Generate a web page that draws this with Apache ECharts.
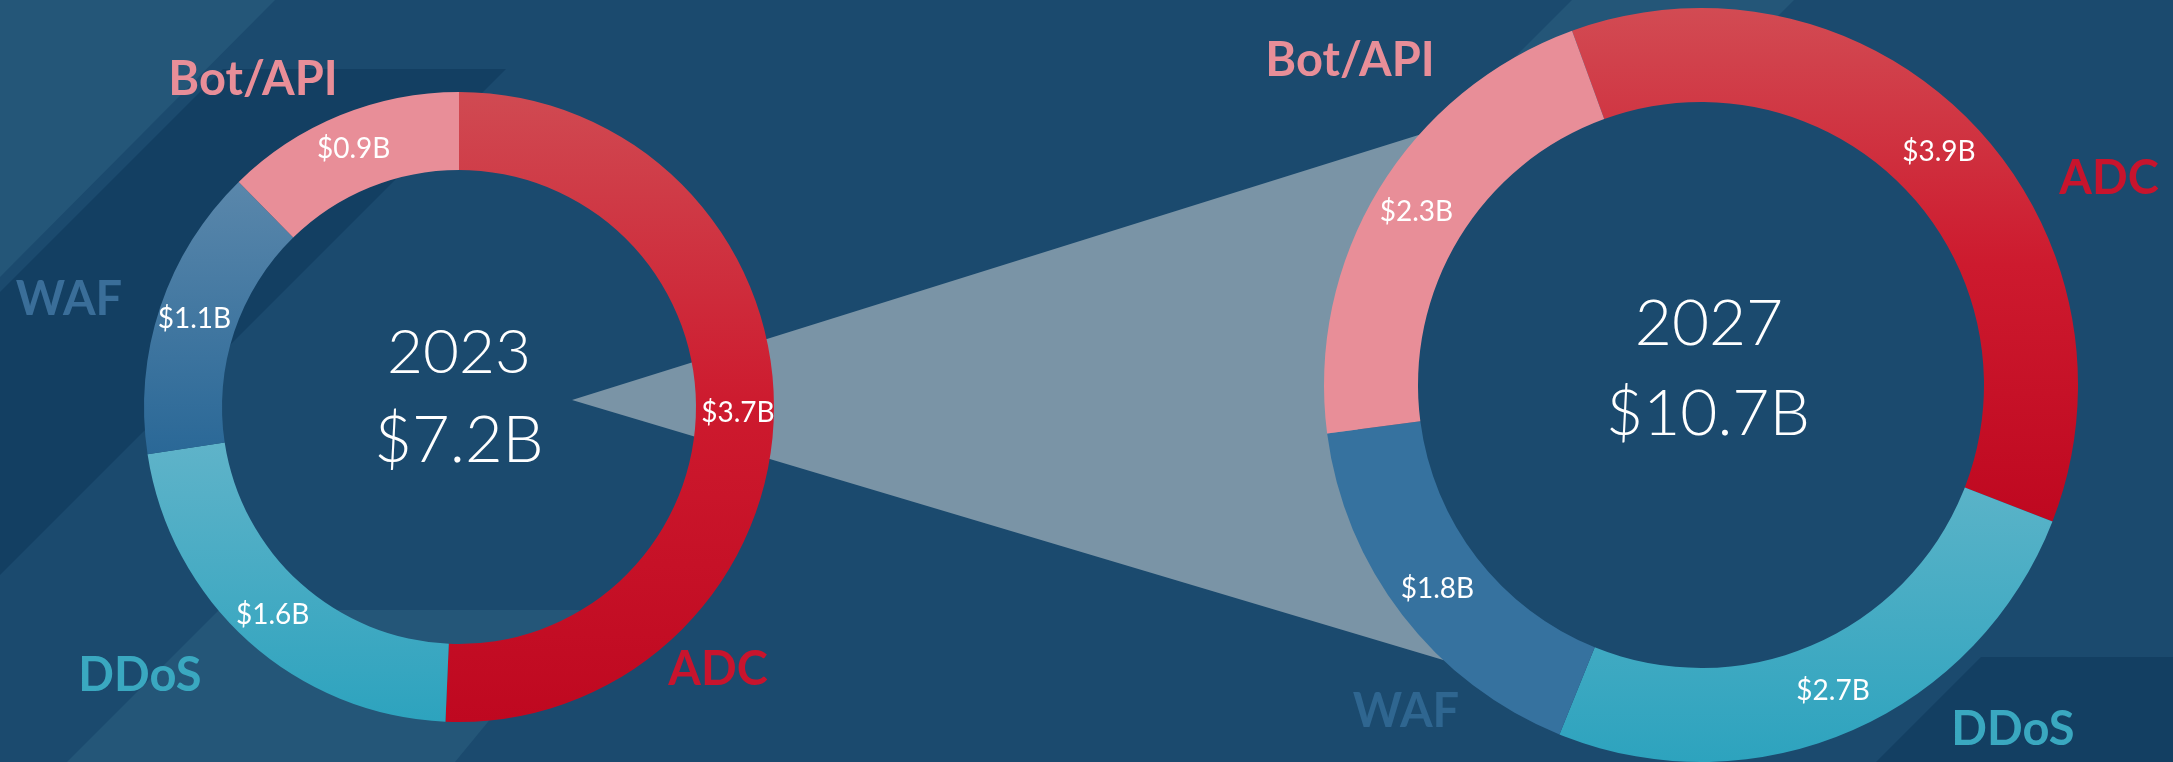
<!DOCTYPE html>
<html>
<head>
<meta charset="utf-8">
<title>ADC / DDoS / WAF / Bot-API market</title>
<script src="https://cdn.jsdelivr.net/npm/echarts@6/dist/echarts.min.js"></script>
<style>
  html, body { margin: 0; padding: 0; background: #1b4a6e; }
  #chart { width: 2173px; height: 762px; }
</style>
</head>
<body>
<div id="chart"></div>
<script>
// data
const categories = ['ADC', 'DDoS', 'WAF', 'Bot/API']
const values2023 = [3.7, 1.6, 1.1, 0.9]
const values2027 = [3.9, 2.7, 1.8, 2.3]
const years = ['2023', '2027']
const totals = [7.2, 10.7]

// colours per category (same order as categories)
const grad = (a, b, c) => new echarts.graphic.LinearGradient(0, 0, 0, 1, c
  ? [{ offset: 0, color: a }, { offset: 0.5, color: b }, { offset: 1, color: c }]
  : [{ offset: 0, color: a }, { offset: 1, color: b }])
const colors2023 = [
  grad('#d04a52', '#cd1a2e', '#bf0820'),
  grad('#5fb3c9', '#2da3be'),
  grad('#5a87ab', '#2a6897'),
  '#e88e98'
]
const colors2027 = [
  grad('#d24b53', '#cd1a2e', '#bf0820'),
  grad('#5ab3c8', '#2da3be'),
  '#36729f',
  '#e88e98'
]
const labelColors = ['#c8142d', '#3aa8c0', '#3a6e99', '#e88e98']
const labelColors2027 = ['#c8142d', '#3aa8c0', '#2f6690', '#e88e98']

// where the category names sit (left donut, right donut)
const nameSpots = [
  [[718, 670], [140, 676], [69, 300], [253, 80]],
  [[2109, 179], [2013, 730], [1406, 712], [1350, 61]]
]

const chart = echarts.init(document.getElementById('chart'))

function pieSeries (values, colors, center, radius, startAngle) {
  return {
    type: 'pie',
    center: center,
    radius: radius,
    startAngle: startAngle,
    avoidLabelOverlap: false,
    silent: true,
    z: 5,
    label: {
      show: true,
      position: 'inside',
      formatter: p => '$' + p.value.toFixed(1) + 'B',
      color: '#ffffff',
      fontFamily: 'Lato',
      fontSize: 28
    },
    labelLine: { show: false },
    itemStyle: { borderWidth: 0 },
    data: values.map((v, i) => ({
      name: categories[i],
      value: v,
      itemStyle: { color: colors[i] }
    }))
  }
}

const graphics = [
  // background bands
  { type: 'polygon', z: 0, shape: { points: [[0, 0], [275, 0], [0, 277]] }, style: { fill: '#245678' } },
  { type: 'polygon', z: 0, shape: { points: [[223, 69], [506, 69], [0, 575], [0, 292]] }, style: { fill: '#133f62' } },
  { type: 'polygon', z: 0, shape: { points: [[67, 762], [219, 610], [580, 610], [455, 762]] }, style: { fill: '#245678' } },
  { type: 'polygon', z: 0, shape: { points: [[1572, 0], [1794, 0], [1694, 100], [1472, 100]] }, style: { fill: '#245678' } },
  { type: 'polygon', z: 0, shape: { points: [[1981, 657], [2173, 657], [2173, 762], [1876, 762]] }, style: { fill: '#133f62' } },
  // zoom wedge between the two donuts
  { type: 'polygon', z: 1, shape: { points: [[572, 400], [1425, 133], [1340, 385], [1450, 662]] }, style: { fill: '#7a94a6' } },
  // centre texts
  { type: 'text', z: 100, x: 459, y: 353, style: { text: years[0], fill: '#fff', font: '300 62px Lato', textAlign: 'center', textVerticalAlign: 'middle' } },
  { type: 'text', z: 100, x: 459, y: 441, style: { text: '$' + totals[0] + 'B', fill: '#fff', font: '300 65px Lato', textAlign: 'center', textVerticalAlign: 'middle' } },
  { type: 'text', z: 100, x: 1709, y: 324, style: { text: years[1], fill: '#fff', font: '300 64px Lato', textAlign: 'center', textVerticalAlign: 'middle' } },
  { type: 'text', z: 100, x: 1708, y: 414, style: { text: '$' + totals[1] + 'B', fill: '#fff', font: '300 64px Lato', textAlign: 'center', textVerticalAlign: 'middle' } }
]

// category names around each donut
categories.forEach((name, i) => {
  graphics.push({
    type: 'text', z: 100, x: nameSpots[0][i][0], y: nameSpots[0][i][1],
    style: { text: name, fill: labelColors[i], font: 'bold 47px Lato', textAlign: 'center', textVerticalAlign: 'middle' }
  })
  graphics.push({
    type: 'text', z: 100, x: nameSpots[1][i][0], y: nameSpots[1][i][1],
    style: { text: name, fill: labelColors2027[i], font: 'bold 47px Lato', textAlign: 'center', textVerticalAlign: 'middle' }
  })
})

const option = {
  animation: false,
  backgroundColor: '#1b4a6e',
  graphic: { elements: graphics },
  series: [
    pieSeries(values2023, colors2023, [459, 407], [237, 315], 90),
    pieSeries(values2027, colors2027, [1701, 385], [283, 377], 110)
  ]
}
chart.setOption(option)
</script>
</body>
</html>
